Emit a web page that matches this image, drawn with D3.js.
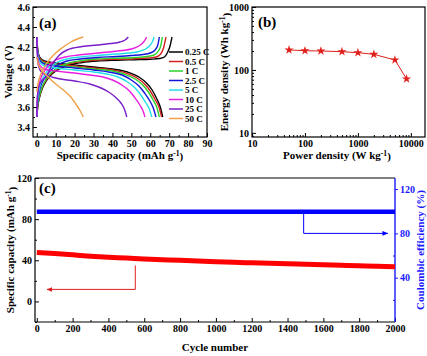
<!DOCTYPE html>
<html><head><meta charset="utf-8">
<script src="https://cdn.jsdelivr.net/npm/d3@7"></script>
<style>
body{margin:0;background:#fff}
svg{display:block}
text{font-family:"Liberation Serif","Times New Roman",serif;font-weight:bold}
</style>
</head><body>
<svg id="chart" width="427" height="356"></svg>
<script>
// ---------- DATA ----------
// Panel (a): galvanostatic charge/discharge curves [capacity mAh/g, voltage V]
const rateLabels = ["0.25 C","0.5 C","1 C","2.5 C","5 C","10 C","25 C","50 C"];
const charge_025 = [[0,3.5],[0.5,3.6],[1.5,3.7],[3,3.79],[5,3.86],[8,3.93],[12,3.98],[17,4.02],[24,4.045],[32,4.06],[42,4.068],[52,4.073],[60,4.078],[65,4.085],[67.5,4.1],[69,4.14],[70.3,4.2],[71.5,4.3]];
const charge_05  = [[0,3.5],[0.5,3.61],[1.5,3.71],[3,3.8],[5,3.87],[8,3.94],[12,3.99],[17,4.03],[24,4.055],[32,4.07],[42,4.078],[52,4.083],[59,4.09],[63,4.1],[65.5,4.13],[67,4.19],[68.3,4.3]];
const charge_1   = [[0,3.5],[0.5,3.62],[1.5,3.72],[3,3.81],[5,3.88],[8,3.95],[12,4.0],[17,4.04],[24,4.065],[32,4.08],[42,4.088],[52,4.095],[58,4.105],[62,4.12],[64.3,4.16],[65.5,4.21],[66.4,4.3]];
const charge_25  = [[0,3.5],[0.4,3.64],[1.2,3.74],[2.5,3.83],[4.5,3.9],[7,3.96],[11,4.02],[16,4.06],[23,4.08],[32,4.095],[42,4.105],[50,4.115],[56,4.125],[60,4.14],[62.5,4.17],[64,4.22],[64.8,4.3]];
const charge_5   = [[0,3.5],[0.4,3.66],[1.2,3.77],[2.5,3.86],[4.5,3.93],[7,3.99],[11,4.05],[16,4.08],[23,4.1],[32,4.115],[42,4.13],[49,4.14],[54,4.155],[57.5,4.18],[60,4.22],[61.3,4.26],[62,4.3]];
const charge_10  = [[0,3.5],[0.3,3.68],[1,3.8],[2,3.88],[4,3.96],[6.5,4.02],[10,4.07],[15,4.1],[22,4.12],[30,4.135],[38,4.15],[45,4.165],[50,4.18],[54,4.21],[56.5,4.25],[58.1,4.3]];
const charge_25C = [[0,3.5],[0.3,3.7],[1,3.8],[2.5,3.86],[5,3.9],[8,4.02],[12,4.12],[16,4.17],[24,4.205],[32,4.22],[39,4.235],[44,4.25],[46.7,4.27],[48.4,4.3]];
const charge_50  = [[0,3.75],[0.5,3.82],[2,3.92],[4,4.0],[7,4.08],[10,4.14],[14,4.2],[18,4.25],[21.5,4.28],[24.6,4.3]];

const dis_025 = [[0,4.3],[0.5,4.17],[1.5,4.1],[4,4.06],[10,4.04],[20,4.02],[30,4.0],[40,3.98],[48,3.95],[54,3.9],[58,3.84],[61,3.77],[63.5,3.68],[65.3,3.6],[66.6,3.5]];
const dis_05  = [[0,4.3],[0.5,4.16],[1.5,4.09],[4,4.05],[10,4.03],[20,4.01],[30,3.99],[40,3.97],[47,3.94],[53,3.89],[57,3.83],[60,3.76],[62.7,3.67],[64.6,3.6],[66,3.5]];
const dis_1   = [[0,4.3],[0.5,4.15],[1.5,4.08],[4,4.04],[10,4.02],[20,4.0],[30,3.98],[40,3.96],[46,3.93],[52,3.88],[56,3.82],[59,3.75],[61.5,3.67],[63.4,3.6],[64.8,3.5]];
const dis_25  = [[0,4.3],[0.5,4.14],[1.5,4.07],[4,4.03],[10,4.01],[20,3.99],[30,3.97],[38,3.95],[45,3.92],[50,3.87],[54,3.81],[57,3.74],[59.8,3.66],[61.6,3.59],[63,3.5]];
const dis_5   = [[0,4.3],[0.5,4.12],[1.5,4.05],[4,4.01],[10,3.99],[20,3.97],[30,3.95],[37,3.93],[43,3.9],[48,3.85],[52,3.79],[55,3.72],[57.7,3.64],[59.5,3.58],[60.8,3.5]];
const dis_10  = [[0,4.3],[0.5,4.1],[1.5,4.02],[4,3.98],[10,3.96],[20,3.94],[28,3.92],[35,3.9],[40,3.87],[45,3.82],[49,3.76],[52,3.69],[54.5,3.62],[56.2,3.56],[57.2,3.5]];
const dis_25C = [[0,4.3],[0.5,4.05],[2,3.96],[5,3.92],[10,3.89],[20,3.86],[28,3.83],[34,3.79],[38,3.75],[41.5,3.7],[44.5,3.64],[46.3,3.58],[47.6,3.5]];
const dis_50  = [[0,4.1],[1,4.02],[3,3.96],[6,3.9],[10,3.83],[14,3.77],[18,3.7],[21,3.62],[23,3.56],[24.6,3.5]];

const chargeCurves = [charge_025,charge_05,charge_1,charge_25,charge_5,charge_10,charge_25C,charge_50];
const dischargeCurves = [dis_025,dis_05,dis_1,dis_25,dis_5,dis_10,dis_25C,dis_50];

// Panel (b): Ragone plot
const powerDensity  = [50,100,200,500,1000,2000,5000,8300];
const energyDensity = [208,202,200,195,188,177,144,72];

// Panel (c): cycling
const cycleNumber = [0,100,200,300,400,500,600,700,800,900,1000,1100,1200,1300,1400,1500,1600,1700,1800,1900,2000];
const capacity    = [47.5,46.5,45.3,44.0,43.0,42.2,41.3,40.6,40.0,39.3,38.6,38.0,37.5,37.0,36.6,36.1,35.6,35.1,34.6,34.2,33.8];
const coulombic   = [99.5,99.6,99.5,99.5,99.6,99.5,99.5,99.5,99.6,99.5,99.5,99.5,99.6,99.5,99.5,99.5,99.6,99.5,99.5,99.5,99.5];

// tick values
const aXTicks = [0,10,20,30,40,50,60,70,80,90];
const aYTicks = [3.4,3.6,3.8,4.0,4.2,4.4,4.6];
const bXTicks = [10,100,1000,10000];
const bYTicks = [10,100,1000];
const cXTicks = [0,200,400,600,800,1000,1200,1400,1600,1800,2000];
const cYTicks = [0,40,80,120];
const cY2Ticks = [40,80,120];

// ---------- STYLE ----------
const rateColors = ["#000000","#d42020","#2ad22a","#1515d8","#22e0e8","#e81ee0","#7a1ec8","#f0a048"];
const FONT = '"Liberation Serif","Times New Roman",serif';

const svg = d3.select("#chart");

function styleAxis(g, color){
  g.attr("font-family", FONT).attr("font-size", 10).attr("font-weight","bold");
  g.select(".domain").remove();
  g.selectAll("line").attr("stroke", color||"#000");
  g.selectAll("text").attr("fill", color||"#000");
}
function minorAxis(axisFn, scale, vals, g, color){
  g.call(axisFn(scale).tickValues(vals).tickSize(-2).tickFormat(""));
  g.select(".domain").remove();
  g.selectAll("line").attr("stroke", color||"#000");
}
function sup(textSel, before, s, after){
  textSel.append("tspan").text(before);
  textSel.append("tspan").attr("font-size","0.7em").attr("dy","-0.45em").text(s);
  textSel.append("tspan").attr("dy","0.45em").text(after);
}

// ---------- PANEL A ----------
const xa = d3.scaleLinear().domain([-2,90]).range([33,207]);
const ya = d3.scaleLinear().domain([3.3,4.6]).range([137,7]);
const ga = svg.append("g");
const lineA = d3.line().x(d=>xa(d[0])).y(d=>ya(d[1])).curve(d3.curveMonotoneX);
svg.append("clipPath").attr("id","clipA").append("rect")
  .attr("x",xa.range()[0]).attr("y",ya.range()[1]).attr("width",xa.range()[1]-xa.range()[0]).attr("height",ya.range()[0]-ya.range()[1]);
const curvesA = ga.append("g").attr("clip-path","url(#clipA)");
rateLabels.forEach((r,i)=>{
  curvesA.append("path").datum(chargeCurves[i]).attr("d",lineA).attr("fill","none").attr("stroke",rateColors[i]).attr("stroke-width",1.4);
  curvesA.append("path").datum(dischargeCurves[i]).attr("d",lineA).attr("fill","none").attr("stroke",rateColors[i]).attr("stroke-width",1.4);
});
// axes
ga.append("g").attr("transform",`translate(0,${ya.range()[0]})`).call(d3.axisBottom(xa).tickValues(aXTicks).tickSize(-4).tickSizeOuter(0).tickPadding(3)).call(styleAxis);
minorAxis(d3.axisBottom, xa, aXTicks.slice(0,-1).map(v=>v+5), ga.append("g").attr("transform",`translate(0,${ya.range()[0]})`));
ga.append("g").attr("transform",`translate(${xa.range()[0]},0)`).call(d3.axisLeft(ya).tickValues(aYTicks).tickFormat(d3.format(".1f")).tickSize(-4).tickSizeOuter(0).tickPadding(3)).call(styleAxis);
minorAxis(d3.axisLeft, ya, aYTicks.slice(0,-1).map(v=>v+0.1), ga.append("g").attr("transform",`translate(${xa.range()[0]},0)`));
ga.append("rect").attr("x",xa.range()[0]).attr("y",ya.range()[1]).attr("width",xa.range()[1]-xa.range()[0]).attr("height",ya.range()[0]-ya.range()[1]).attr("fill","none").attr("stroke","#000").attr("stroke-width",1.2);
// legend
const legA = ga.append("g");
rateLabels.forEach((r,i)=>{
  const yy = 52 + i*9.5;
  legA.append("line").attr("x1",169).attr("x2",183).attr("y1",yy).attr("y2",yy).attr("stroke",rateColors[i]).attr("stroke-width",1.5);
  legA.append("text").attr("x",185).attr("y",yy+3).attr("font-size",9).text(r);
});
ga.append("text").attr("x",39).attr("y",28).attr("font-size",15).text("(a)");
ga.append("text").attr("transform","translate(12,72) rotate(-90)").attr("text-anchor","middle").attr("font-size",11).text("Voltage (V)");
sup(ga.append("text").attr("x",120).attr("y",159).attr("text-anchor","middle").attr("font-size",11), "Specific capacity (mAh g","-1",")");

// ---------- PANEL B ----------
const xb = d3.scaleLog().domain([10,18500]).range([252,425]);
const yb = d3.scaleLog().domain([8.6,1000]).range([137,7]);
const gb = svg.append("g");
const minorLog = (lo,hi)=>{const out=[];for(let p=lo;p<hi;p*=10){for(let k=2;k<10;k++){out.push(p*k);}}return out;};
gb.append("g").attr("transform",`translate(0,${yb.range()[0]})`).call(d3.axisBottom(xb).tickValues(bXTicks).tickFormat(d3.format("d")).tickSize(-4).tickSizeOuter(0).tickPadding(3)).call(styleAxis);
minorAxis(d3.axisBottom, xb, minorLog(10,10000).filter(v=>v<18500), gb.append("g").attr("transform",`translate(0,${yb.range()[0]})`));
gb.append("g").attr("transform",`translate(${xb.range()[0]},0)`).call(d3.axisLeft(yb).tickValues(bYTicks).tickFormat(d3.format("d")).tickSize(-4).tickSizeOuter(0).tickPadding(3)).call(styleAxis);
minorAxis(d3.axisLeft, yb, minorLog(10,1000).concat([9]), gb.append("g").attr("transform",`translate(${xb.range()[0]},0)`));
gb.append("rect").attr("x",xb.range()[0]).attr("y",yb.range()[1]).attr("width",xb.range()[1]-xb.range()[0]).attr("height",yb.range()[0]-yb.range()[1]).attr("fill","none").attr("stroke","#000").attr("stroke-width",1.2);
const ragone = powerDensity.map((p,i)=>[p,energyDensity[i]]);
gb.append("path").datum(ragone).attr("d",d3.line().x(d=>xb(d[0])).y(d=>yb(d[1]))).attr("fill","none").attr("stroke","#e0201c").attr("stroke-width",1);
gb.selectAll(".star").data(ragone).join("path").attr("class","star")
  .attr("transform",d=>`translate(${xb(d[0])},${yb(d[1])})`)
  .attr("d",d3.symbol().type(d3.symbolStar).size(26)).attr("fill","#e0201c");
gb.append("text").attr("x",258).attr("y",27).attr("font-size",15).text("(b)");
sup(gb.append("text").attr("transform","translate(228,72) rotate(-90)").attr("text-anchor","middle").attr("font-size",11), "Energy density (Wh kg","-1",")");
sup(gb.append("text").attr("x",337).attr("y",159).attr("text-anchor","middle").attr("font-size",11), "Power density (W kg","-1",")");

// ---------- PANEL C ----------
const xc = d3.scaleLinear().domain([-10,2000]).range([35,395]);
const yc = d3.scaleLinear().domain([-20,120]).range([322,178]);
const yc2 = d3.scaleLinear().domain([0,130]).range([322,178]);
const gc = svg.append("g");
const blue = "#1a1aff";
gc.append("g").attr("transform",`translate(0,${yc.range()[0]})`).call(d3.axisBottom(xc).tickValues(cXTicks).tickFormat(d3.format("d")).tickSize(-4).tickSizeOuter(0).tickPadding(3)).call(styleAxis);
minorAxis(d3.axisBottom, xc, cXTicks.slice(0,-1).map(v=>v+100), gc.append("g").attr("transform",`translate(0,${yc.range()[0]})`));
gc.append("g").attr("transform",`translate(${xc.range()[0]},0)`).call(d3.axisLeft(yc).tickValues(cYTicks).tickSize(-4).tickSizeOuter(0).tickPadding(3)).call(styleAxis);
minorAxis(d3.axisLeft, yc, [-20,20,60,100], gc.append("g").attr("transform",`translate(${xc.range()[0]},0)`));
gc.append("g").attr("transform",`translate(${xc.range()[1]},0)`).call(d3.axisRight(yc2).tickValues(cY2Ticks).tickSize(3).tickSizeOuter(0).tickPadding(2)).call(g=>styleAxis(g,blue));
minorAxis(d3.axisRight, yc2, [20,60,100], gc.append("g").attr("transform",`translate(${xc.range()[1]},0)`), blue);
// frame
gc.append("line").attr("x1",xc.range()[0]).attr("x2",xc.range()[1]).attr("y1",yc.range()[1]).attr("y2",yc.range()[1]).attr("stroke","#000").attr("stroke-width",1.2);
gc.append("line").attr("x1",xc.range()[0]).attr("x2",xc.range()[1]).attr("y1",yc.range()[0]).attr("y2",yc.range()[0]).attr("stroke","#000").attr("stroke-width",1.2);
gc.append("line").attr("x1",xc.range()[0]).attr("x2",xc.range()[0]).attr("y1",yc.range()[0]).attr("y2",yc.range()[1]).attr("stroke","#000").attr("stroke-width",1.2);
gc.append("line").attr("x1",xc.range()[1]).attr("x2",xc.range()[1]).attr("y1",yc.range()[0]).attr("y2",yc.range()[1]).attr("stroke",blue).attr("stroke-width",1.4);
// series
gc.append("path").datum(cycleNumber.map((c,i)=>[c,coulombic[i]]))
  .attr("d",d3.line().x(d=>xc(d[0])).y(d=>yc2(d[1])).curve(d3.curveMonotoneX))
  .attr("fill","none").attr("stroke","#0000ff").attr("stroke-width",4.5);
gc.append("path").datum(cycleNumber.map((c,i)=>[c,capacity[i]]))
  .attr("d",d3.line().x(d=>xc(d[0])).y(d=>yc(d[1])).curve(d3.curveMonotoneX))
  .attr("fill","none").attr("stroke","#ff0000").attr("stroke-width",5);
// arrows
const defs = svg.append("defs");
function marker(id,color){
  defs.append("marker").attr("id",id).attr("viewBox","0 0 10 10").attr("refX",9).attr("refY",5)
    .attr("markerWidth",6).attr("markerHeight",6).attr("markerUnits","userSpaceOnUse").attr("orient","auto")
    .append("path").attr("d","M0,1L10,5L0,9Z").attr("fill",color);
}
marker("arRed","#e02020"); marker("arBlue","#0000ff");
gc.append("path").attr("d",d3.line()([[xc(550),yc(35)],[xc(550),yc(11.7)],[xc(57),yc(11.7)]]))
  .attr("fill","none").attr("stroke","#e02020").attr("stroke-width",1).attr("marker-end","url(#arRed)");
gc.append("path").attr("d",d3.line()([[xc(1490),yc2(97.5)],[xc(1490),yc2(80)],[xc(1960),yc2(80)]]))
  .attr("fill","none").attr("stroke","#0000ff").attr("stroke-width",1).attr("marker-end","url(#arBlue)");
gc.append("text").attr("x",39).attr("y",193).attr("font-size",15).text("(c)");
sup(gc.append("text").attr("transform","translate(14,250) rotate(-90)").attr("text-anchor","middle").attr("font-size",11), "Specific capacity (mAh g","-1",")");
gc.append("text").attr("transform","translate(424,250) rotate(-90)").attr("text-anchor","middle").attr("font-size",11).attr("fill",blue).text("Coulombic efficiency (%)");
gc.append("text").attr("x",215).attr("y",351).attr("text-anchor","middle").attr("font-size",11).text("Cycle number");
</script>
</body></html>
